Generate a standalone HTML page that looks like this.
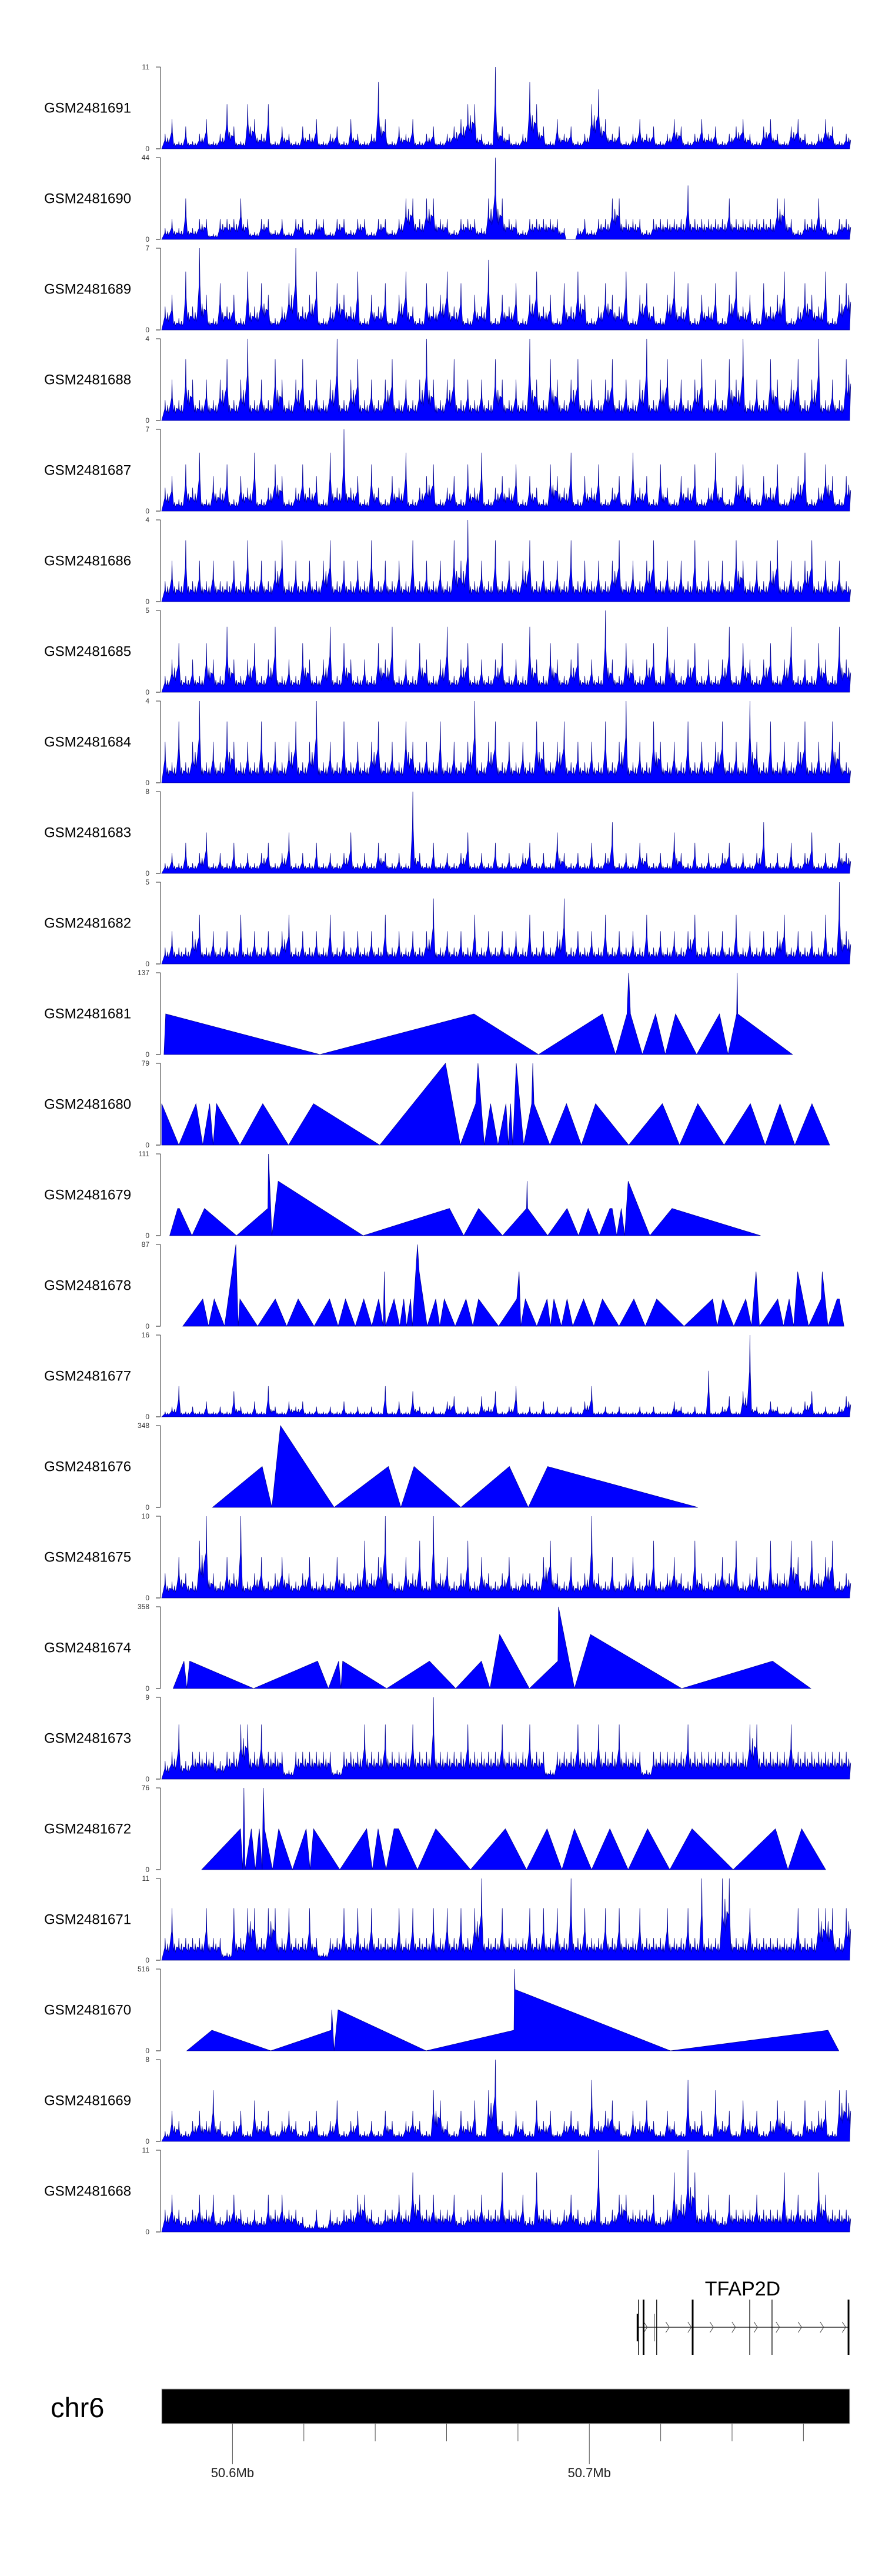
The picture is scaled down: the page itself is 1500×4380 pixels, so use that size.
<!DOCTYPE html>
<html><head><meta charset="utf-8"><title>Gviz tracks chr6</title>
<style>
html,body{margin:0;padding:0;background:#fff;}
svg{display:block;font-family:"Liberation Sans",sans-serif;}
</style></head>
<body>
<svg id="chart" xmlns="http://www.w3.org/2000/svg" width="1500" height="4380" viewBox="0 0 1500 4380">
<rect x="0" y="0" width="1500" height="4380" fill="#fff"/>
<g id="tracks"></g>
<g id="gene">
  <text x="1263" y="3903" font-size="34" text-anchor="middle" fill="#000">TFAP2D</text>
</g>
<g id="ideo">
  <text x="86" y="4110" font-size="47" fill="#000">chr6</text>
</g>
</svg>
<script>
// ---- region / axis data ----
const regionKb = [50580.16, 50772.96];
const binOrigin = 283;            // first 160bp bin index
const binKb = 0.16;
const tickKb = [50600,50620,50640,50660,50680,50700,50720,50740,50760];
const tickLabels = {50600:"50.6Mb",50700:"50.7Mb"};
const trackNames = ["GSM2481691","GSM2481690","GSM2481689","GSM2481688","GSM2481687","GSM2481686","GSM2481685","GSM2481684","GSM2481683","GSM2481682","GSM2481681","GSM2481680","GSM2481679","GSM2481678","GSM2481677","GSM2481676","GSM2481675","GSM2481674","GSM2481673","GSM2481672","GSM2481671","GSM2481670","GSM2481669","GSM2481668"];
const trackMax = [11,44,7,4,7,4,5,4,8,5,137,79,111,87,16,348,10,358,9,76,11,516,8,11];

// ---- dense coverage tracks (evenly spaced bins across region) ----
const cov1691 = [2,4,1,3,1,2,4,1,2,6,3,1,6,4,2,6,1,3,2,1,3,2,4,1,2,3,1,4,2,1,2,9,4,1,3,2,4,1,2,3,1,2,3,4,6,6,2,1,11,3,2,1,2,9,6,3,1,4,2,3,1,2,6,8,4,2,3,1,2,4,2,3,1,2,4,3,1,2,4,2,3,1,2,3,4,2,1,3,4,2,1,3,4,2,1,2,4,3,1,2];
const cov1690 = [6,11,6,22,6,11,11,3,11,11,11,22,11,4,11,11,5,11,4,11,11,5,11,11,4,11,11,5,11,11,4,11,11,5,11,22,22,11,22,22,11,11,5,11,11,11,6,22,44,22,11,11,5,11,11,11,11,11,6,0,6,11,5,11,11,22,22,11,11,11,5,11,11,11,11,11,29,11,11,11,11,11,22,11,11,11,11,11,11,22,22,11,5,11,11,22,11,5,11,11];
const cov1689 = [2,3,1,5,2,7,3,1,4,2,3,1,5,2,4,3,1,2,4,7,2,3,5,1,2,4,3,2,5,1,3,2,4,1,3,5,2,1,4,2,3,5,2,4,1,3,2,6,1,3,2,4,1,3,5,2,3,1,4,2,5,3,1,2,4,3,2,5,1,3,4,2,1,3,5,2,4,1,3,2,4,1,3,5,2,3,1,4,2,3,5,1,2,4,3,2,5,1,3,4];
const cov1688 = [1,2,1,3,2,1,2,1,2,3,1,2,4,1,2,1,3,2,1,2,3,1,2,1,2,4,1,2,3,1,2,1,2,3,1,2,1,2,4,2,1,2,3,1,2,1,2,1,3,2,1,2,1,4,2,1,3,2,1,2,3,1,2,1,2,3,1,2,1,2,4,1,2,3,1,2,1,2,3,1,2,1,3,2,4,1,2,1,3,2,1,2,3,1,2,4,1,2,1,3];
const cov1687 = [2,3,1,4,2,5,1,3,2,4,1,3,2,5,1,2,4,3,1,2,4,2,3,1,5,2,7,2,3,1,4,2,1,3,2,5,1,2,3,4,1,2,3,1,4,2,5,1,2,3,2,4,1,3,2,1,4,3,2,5,1,3,2,4,1,2,3,1,5,2,3,1,4,2,1,3,2,4,1,2,5,2,1,3,4,2,1,3,2,4,1,2,3,5,1,2,4,3,1,3];
const cov1686 = [1,2,1,3,1,2,1,2,1,1,2,1,3,1,2,1,2,3,1,2,1,2,1,2,3,1,2,1,2,1,3,1,2,1,2,1,3,1,2,1,2,1,3,2,4,1,2,1,3,1,2,1,2,3,1,2,1,2,1,3,1,2,1,2,1,2,3,1,2,1,2,3,1,2,1,2,1,3,1,2,1,2,1,3,2,1,2,1,2,3,1,2,1,2,3,1,2,1,2,1];
const cov1685 = [1,2,3,1,2,1,3,2,1,4,2,1,2,3,1,2,4,1,2,1,3,2,1,2,4,1,3,2,1,2,1,3,2,4,1,2,1,3,2,1,2,4,1,2,3,1,2,1,2,3,1,2,1,4,2,1,3,2,1,2,3,1,2,1,5,2,1,3,2,1,2,3,1,4,2,1,2,3,1,2,1,2,4,1,3,2,1,2,3,1,2,4,1,2,1,3,2,1,4,2];
const cov1684 = [2,1,3,1,2,4,1,2,1,3,2,1,2,1,3,1,2,1,2,3,1,2,4,1,2,1,3,1,2,1,2,3,1,2,1,3,2,1,2,1,3,1,2,1,2,4,1,2,3,1,2,1,2,1,3,2,1,2,3,1,2,1,2,1,3,1,2,4,1,2,1,3,2,1,2,1,3,1,2,1,2,3,1,2,1,4,2,1,3,1,2,1,2,3,1,2,1,3,2,1];
const cov1683 = [1,2,1,3,1,2,4,1,2,1,3,1,2,1,2,3,1,2,4,1,2,1,3,1,2,1,2,4,1,2,1,3,2,1,2,1,8,2,1,3,1,2,1,2,4,1,2,1,3,1,2,1,2,3,1,2,1,4,2,1,2,1,3,1,2,5,1,2,1,3,2,1,2,1,4,2,1,3,1,2,1,2,3,1,2,1,2,5,1,2,1,3,1,2,4,1,2,1,3,2];
const cov1682 = [1,2,1,1,2,3,1,2,1,2,1,3,1,2,1,2,1,2,3,1,2,1,2,1,3,1,2,1,2,1,2,1,3,1,2,1,2,1,2,4,1,2,1,2,1,3,1,2,1,2,1,2,1,3,1,2,1,2,4,1,2,1,2,1,3,1,2,1,2,1,3,1,2,1,2,1,2,3,1,2,1,2,1,3,1,2,1,2,1,2,3,1,2,1,2,1,3,1,5,2];
const cov1677 = [1,2,6,1,2,1,3,1,2,1,5,2,1,3,1,6,2,1,3,2,3,1,2,1,2,1,3,1,2,1,2,1,6,1,3,1,5,2,1,2,1,3,4,1,2,1,4,2,5,1,2,6,1,2,1,3,1,2,1,2,1,3,6,1,2,1,2,1,1,2,1,2,1,1,3,2,1,2,1,9,1,2,4,1,5,16,2,1,3,2,1,2,1,3,5,1,2,1,2,4];
const cov1675 = [3,2,5,3,2,7,10,3,2,5,3,10,2,3,5,2,3,5,3,2,3,5,2,3,2,5,3,2,3,7,3,5,10,3,2,5,3,7,2,10,3,5,2,3,7,2,5,3,2,3,5,2,3,3,2,5,7,3,2,5,2,3,10,3,2,5,2,3,5,2,3,7,2,3,5,3,2,7,3,2,3,5,3,7,2,3,5,2,7,3,3,7,5,2,7,3,5,7,2,3];
const cov1673 = [2,3,6,2,3,3,3,3,2,3,3,6,6,3,6,3,3,3,1,3,3,3,3,3,3,1,3,3,3,6,3,3,6,3,3,3,6,3,3,9,3,3,3,3,6,3,3,3,3,6,3,3,3,6,3,3,1,3,3,3,6,3,3,6,3,3,6,3,3,3,1,3,3,3,3,3,6,3,3,3,3,3,3,3,3,6,6,3,3,3,3,6,3,3,3,3,3,3,3,3];
const cov1671 = [3,7,3,3,3,3,7,3,3,1,7,3,7,7,3,7,7,3,7,3,3,7,3,1,3,3,7,3,7,3,7,3,3,3,7,3,7,3,3,7,3,7,3,7,3,7,11,3,3,7,3,3,3,7,3,7,3,7,3,11,3,7,3,3,7,3,7,3,3,7,3,3,3,7,3,3,7,3,11,3,3,11,11,3,3,7,3,3,3,3,3,3,7,3,3,7,7,7,3,7];
const cov1669 = [1,3,2,1,2,3,2,5,2,1,2,3,1,4,2,3,1,2,3,2,1,2,3,1,2,4,1,2,3,1,2,1,3,2,1,2,3,2,1,5,4,2,1,3,2,4,1,5,8,2,1,3,2,1,4,2,3,1,2,3,2,1,6,2,3,4,2,1,3,2,4,2,1,3,2,1,6,2,3,1,5,2,3,1,4,2,3,1,2,4,3,2,1,4,2,3,4,1,5,5];
const cov1668 = [3,5,3,2,3,5,3,5,2,3,5,3,2,3,2,5,3,5,3,3,2,1,3,1,3,2,3,3,5,5,3,2,3,3,5,3,8,5,3,5,3,3,5,2,3,3,5,3,3,8,3,3,5,2,8,3,3,2,3,5,3,2,3,11,2,3,5,5,3,3,3,5,2,3,8,5,11,8,3,5,3,2,5,3,3,3,5,3,3,3,8,3,5,3,3,8,5,3,3,3];

// ---- sparse tracks: bin positions and coverage values ----
const bins1681 = [287,290,560,830,943,1055,1078,1098,1101,1104,1125,1148,1165,1183,1220,1260,1275,1290,1291,1292,1388];
const vals1681 = [0,68,0,68,0,68,0,68,137,68,0,68,0,68,0,68,0,68,137,68,0];
const bins1680 = [283,313,343,355,367,373,379,420,460,505,549,665,780,806,833,837,848,859,872,886,890,894,898,904,917,931,933,935,963,992,1018,1043,1101,1160,1190,1222,1268,1314,1340,1366,1392,1422,1453];
const vals1680 = [40,0,40,0,40,0,40,0,40,0,40,0,79,0,40,79,0,40,0,40,0,40,0,79,0,40,79,40,0,40,0,40,0,40,0,40,0,40,0,40,0,40,0];
const bins1679 = [297,311,314,336,358,414,469,470,476,487,636,787,812,838,880,922,923,924,959,993,1013,1030,1049,1068,1072,1080,1088,1094,1100,1138,1177,1332];
const vals1679 = [0,37,37,0,37,0,37,111,0,74,0,37,0,37,0,37,74,37,0,37,0,37,0,37,37,0,37,0,74,0,37,0];
const bins1678 = [320,355,365,375,393,413,417,420,451,482,502,522,550,577,592,605,622,637,651,663,671,673,675,690,700,707,712,719,722,731,734,748,763,770,778,797,816,828,838,873,905,909,912,920,940,958,964,970,983,993,1003,1022,1040,1055,1084,1110,1130,1150,1198,1248,1256,1266,1285,1306,1316,1324,1330,1362,1372,1382,1390,1397,1416,1438,1440,1450,1466,1470,1478];
const vals1678 = [0,29,0,29,0,87,0,29,0,29,0,29,0,29,0,29,0,29,0,29,0,58,0,29,0,29,0,29,0,87,58,0,29,0,29,0,29,0,29,0,29,58,0,29,0,29,0,29,0,29,0,29,0,29,0,29,0,29,0,29,0,29,0,29,0,58,0,29,0,29,0,58,0,29,58,0,29,29,0];
const bins1676 = [372,459,476,491,585,680,702,725,807,892,925,959,1222];
const vals1676 = [0,174,0,348,0,174,0,174,0,174,0,174,0];
const bins1674 = [303,322,327,332,444,556,575,593,597,600,677,752,798,843,858,875,927,977,978,1006,1034,1194,1353,1420];
const vals1674 = [0,120,0,120,0,120,0,120,0,120,0,120,0,120,0,237,0,120,358,0,237,0,120,0];
const bins1672 = [353,421,425,427,429,440,447,454,459,461,463,477,488,512,536,543,549,595,642,652,662,676,690,698,731,763,824,885,922,958,984,1006,1036,1068,1100,1134,1173,1212,1284,1358,1380,1404,1446];
const vals1672 = [0,38,0,76,0,38,0,38,0,76,38,0,38,0,38,0,38,0,38,0,38,0,38,38,0,38,0,38,0,38,0,38,0,38,0,38,0,38,0,38,0,38,0];
const bins1670 = [327,371,474,580,581,585,592,746,900,901,902,1174,1450,1469];
const vals1670 = [0,130,0,130,259,0,259,0,130,516,387,0,130,0];

// gene model (exon positions in bins)
const exonBins = [1118,1127,1150,1213,1313,1352,1486];
const geneBins = [1116,1486];

const denseData = {1691:cov1691,1690:cov1690,1689:cov1689,1688:cov1688,1687:cov1687,1686:cov1686,1685:cov1685,1684:cov1684,1683:cov1683,1682:cov1682,1677:cov1677,1675:cov1675,1673:cov1673,1671:cov1671,1669:cov1669,1668:cov1668};
const sparseData = {1681:[bins1681,vals1681],1680:[bins1680,vals1680],1679:[bins1679,vals1679],1678:[bins1678,vals1678],1676:[bins1676,vals1676],1674:[bins1674,vals1674],1672:[bins1672,vals1672],1670:[bins1670,vals1670]};

// ---- layout ----
const NS = "http://www.w3.org/2000/svg";
const X0 = 275, X1 = 1445, TOP0 = 114, PITCH = 154, TH = 139;
function xKb(kb){ return X0 + (kb - regionKb[0]) / (regionKb[1] - regionKb[0]) * (X1 - X0); }
function xBin(b){ return xKb(regionKb[0] + (b - binOrigin) * binKb); }
function mk(tag, attrs, parent){ const e = document.createElementNS(NS, tag); for (const k in attrs) e.setAttribute(k, attrs[k]); parent.appendChild(e); return e; }

const tracksG = document.getElementById('tracks');
trackNames.forEach((name, i) => {
  const top = TOP0 + PITCH * i, base = top + TH, max = trackMax[i];
  const y = v => base - v / max * TH;
  const g = mk('g', {}, tracksG);
  
  
  const lab = mk('text', {x: 75, y: top + TH/2 + 8, 'font-size': 24, fill: '#000'}, g);
  lab.textContent = name;
  
  
  const ax = mk('line', {x1: X0-2, x2: X0-2, y1: top, y2: base, stroke: '#555', 'stroke-width': 1.2}, g);
  
  
  mk('line', {x1: X0-10, x2: X0-2, y1: top, y2: top, stroke: '#555', 'stroke-width': 1.2}, g);
  mk('line', {x1: X0-10, x2: X0-2, y1: base, y2: base, stroke: '#888', 'stroke-width': 2}, g);
  const tmax = mk('text', {x: 254, y: top + 4, 'font-size': 12, 'text-anchor': 'end', fill: '#333'}, g);
  tmax.textContent = String(max);
  
  
  const t0 = mk('text', {x: 254, y: base + 4, 'font-size': 12, 'text-anchor': 'end', fill: '#333'}, g);
  t0.textContent = '0';
  
  

  const id = name.slice(-4);
  let d = '';
  if (denseData[id]) {
    const vals = denseData[id], n = vals.length;
    const span = (1488 - 283) / n;
    const bx0 = xBin(283), bx1 = xBin(1488);
    const hw = (xBin(283 + span) - bx0) / 2;
    d = 'M' + bx0 + ',' + base;
    for (let k = 0; k < n; k++) {
      const xc = xBin(283 + (k + 0.5) * span);
      const v = vals[k];
      const nxt = k + 1 < n ? vals[k+1] : v;
      const lo = Math.min(v, nxt);
      d += ' L' + (xc - hw*0.12).toFixed(1) + ',' + y(v*0.55).toFixed(1);
      d += ' L' + xc.toFixed(1) + ',' + y(v).toFixed(1);
      d += ' L' + (xc + hw*0.12).toFixed(1) + ',' + y(v*0.55).toFixed(1);
      d += ' L' + (xc + hw*0.5).toFixed(1) + ',' + y(lo*0.4).toFixed(1);
      d += ' L' + (xc + hw*0.75).toFixed(1) + ',' + y(lo*0.75).toFixed(1);
      d += ' L' + (xc + hw).toFixed(1) + ',' + y(lo*0.35).toFixed(1);
      d += ' L' + (xc + hw*1.3).toFixed(1) + ',' + y(lo*0.6).toFixed(1);
    }
    d += ' L' + bx1 + ',' + base + ' Z';
  } else {
    const [bins, vals] = sparseData[id];
    d = 'M' + xBin(bins[0]).toFixed(1) + ',' + base;
    for (let k = 0; k < bins.length; k++) d += ' L' + xBin(bins[k]).toFixed(1) + ',' + y(vals[k]).toFixed(1);
    d += ' L' + xBin(bins[bins.length-1]).toFixed(1) + ',' + base + ' Z';
  }
  const area = mk('path', {d: d, fill: '#0000ff', stroke: '#00008b', 'stroke-width': 0.7, 'stroke-linejoin': 'miter'}, g);
  
  
});

// ---- gene model ----
const geneG = document.getElementById('gene');
const gx0 = xBin(geneBins[0]), gx1 = xBin(geneBins[1]);
const gl = mk('line', {x1: gx0, x2: gx1, y1: 3957, y2: 3957, stroke: '#333', 'stroke-width': 1.5}, geneG);


const utr = mk('rect', {x: gx0 - 1, y: 3934, width: 3, height: 47, fill: '#000'}, geneG);


mk('line', {x1: xBin(1146), x2: xBin(1146), y1: 3934, y2: 3981, stroke: '#333', 'stroke-width': 1}, geneG);
for (let cx = gx0 + 14; cx < gx1 - 5; cx += 37.5) {
  const ch = mk('polyline', {points: (cx-3)+','+(3948)+' '+(cx+3)+','+3957+' '+(cx-3)+','+3966, fill: 'none', stroke: '#444', 'stroke-width': 1}, geneG);
  
  
}
exonBins.forEach((b, k) => {
  const thick = (k === 1 || k === 3 || k === 6) ? 3 : 1.3;
  const ex = mk('line', {x1: xBin(b), x2: xBin(b), y1: 3910, y2: 4004, stroke: '#000', 'stroke-width': thick}, geneG);
  
  
});

// ---- chromosome / genome axis ----
const ideo = document.getElementById('ideo');
const bar = mk('rect', {x: X0, y: 4062, width: X1 - X0, height: 59, fill: '#000', stroke: '#bbb', 'stroke-width': 1}, ideo);


tickKb.forEach(kb => {
  const x = xKb(kb);
  const major = tickLabels[kb] !== undefined;
  const t = mk('line', {x1: x, x2: x, y1: 4121, y2: major ? 4190 : 4151, stroke: '#555', 'stroke-width': 1}, ideo);
  
  
  if (major) {
    const tl = mk('text', {x: x, y: 4212, 'font-size': 22, 'text-anchor': 'middle', fill: '#222'}, ideo);
    tl.textContent = tickLabels[kb];
    
    
  }
});
</script>
</body></html>
